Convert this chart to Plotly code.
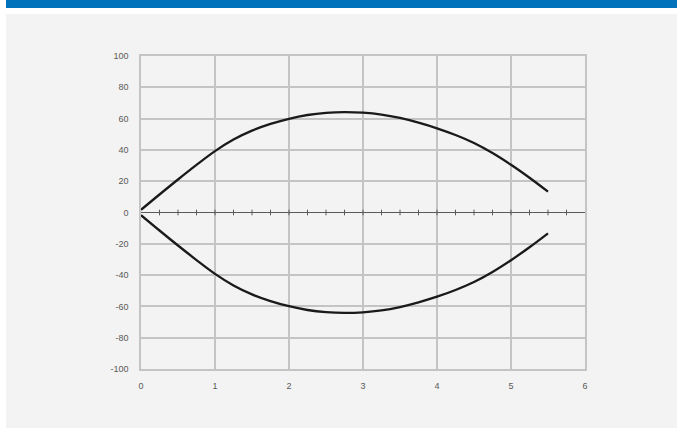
import plotly.graph_objects as go

# Data
x_vals = [0, 0.25, 0.5, 0.75, 1, 1.25, 1.5, 1.75, 2, 2.25, 2.5, 2.75,
          3, 3.25, 3.5, 3.75, 4, 4.25, 4.5, 4.75, 5, 5.25, 5.5]
upper_vals = [1.7, 11.5, 21.1, 30.4, 39.2, 46.6, 52.3, 56.6, 59.9, 62.3, 63.7, 64.2,
              63.8, 62.6, 60.4, 57.4, 53.8, 49.5, 44.4, 38.0, 30.5, 22.2, 13.3]
lower_vals = [-1.7, -11.5, -21.1, -30.4, -39.2, -46.6, -52.3, -56.6, -59.9, -62.3, -63.7, -64.2,
              -63.8, -62.6, -60.4, -57.4, -53.8, -49.5, -44.4, -38.0, -30.5, -22.2, -13.3]
minor_tick_x = [i * 0.25 for i in range(1, 24)]
minor_tick_y = [0] * len(minor_tick_x)
x_tick_vals = [0, 1, 2, 3, 4, 5, 6]
y_tick_vals = [100, 80, 60, 40, 20, 0, -20, -40, -60, -80, -100]
y_tick_text = ["100", "80", "60", "40", "20", "0", "-20", "-40", "-60", "-80", "-100"]

W, H = 677, 428
ML, MR, MT, MB = 141, 92, 56, 59
PW, PH = W - ML - MR, H - MT - MB


def px(xp):
    return (xp - ML) / PW


def py(yp):
    return (H - MB - yp) / PH


fig = go.Figure()

fig.add_trace(go.Scatter(
    x=x_vals, y=upper_vals, mode="lines", line=dict(color="#1a1a1a", width=2.3, shape="spline", smoothing=1),
    showlegend=False, hoverinfo="skip"))
fig.add_trace(go.Scatter(
    x=x_vals, y=lower_vals, mode="lines", line=dict(color="#1a1a1a", width=2.3, shape="spline", smoothing=1),
    showlegend=False, hoverinfo="skip"))
fig.add_trace(go.Scatter(
    x=minor_tick_x, y=minor_tick_y, mode="markers",
    marker=dict(symbol="line-ns", size=4, line=dict(color="#595959", width=1)),
    showlegend=False, hoverinfo="skip"))

shapes = [
    dict(type="rect", xref="paper", yref="paper", x0=px(6), x1=px(W + 10), y0=py(H + 10), y1=py(14),
         fillcolor="#f3f3f3", line=dict(width=0), layer="below"),
    dict(type="rect", xref="paper", yref="paper", x0=px(6), x1=px(W + 10), y0=py(8), y1=py(-5),
         fillcolor="#0071bb", line=dict(width=0), layer="below"),
]

axis_font = dict(family="Liberation Sans, Arial, sans-serif", size=9, color="#595959")

fig.update_layout(
    width=W, height=H,
    margin=dict(l=ML, r=MR, t=MT, b=MB, pad=0),
    paper_bgcolor="white",
    plot_bgcolor="rgba(0,0,0,0)",
    shapes=shapes,
    xaxis=dict(range=[0, 6], tickvals=x_tick_vals, showgrid=True, gridcolor="#c4c4c4", gridwidth=1.5,
               showline=True, linecolor="#c4c4c4", linewidth=1.5, mirror=True, zeroline=False,
               ticks="", tickfont=axis_font, ticklabelstandoff=7, fixedrange=True),
    yaxis=dict(range=[-100, 100], tickvals=y_tick_vals, ticktext=y_tick_text,
               showgrid=True, gridcolor="#c4c4c4", gridwidth=1.5,
               showline=True, linecolor="#c4c4c4", linewidth=1.5, mirror=True,
               zeroline=True, zerolinecolor="#595959", zerolinewidth=1,
               ticks="", tickfont=axis_font, ticklabelstandoff=9, fixedrange=True),
)

fig.write_html("out.html", config={"displayModeBar": False},
               post_script="document.body.style.margin='0px';")
